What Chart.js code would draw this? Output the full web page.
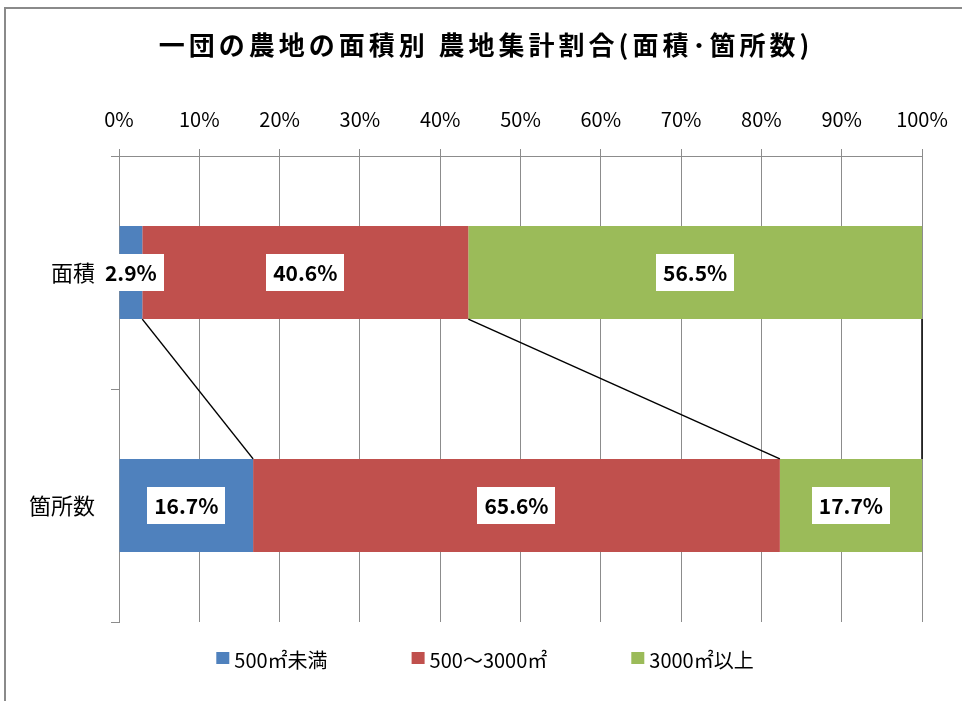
<!DOCTYPE html>
<html>
<head>
<meta charset="utf-8">
<script src="https://cdn.jsdelivr.net/npm/chart.js@4/dist/chart.umd.min.js"></script>
<style>
  html, body { margin: 0; padding: 0; background: #fff; }
  #wrap { width: 962px; height: 701px; position: relative; }
</style>
</head>
<body>
<div id="wrap"><canvas id="c"></canvas></div>
<script>
const titleText = '一団の農地の面積別 農地集計割合(面積･箇所数)';
const categories = ['面積', '箇所数'];
const seriesNames = ['500㎡未満', '500～3000㎡', '3000㎡以上'];
const under500 = [2.9, 16.7];
const from500to3000 = [40.6, 65.6];
const over3000 = [56.5, 17.7];
const seriesColors = ['#4F81BD', '#C0504D', '#9BBB59'];

const FONT = "'Noto Sans CJK JP', 'Noto Sans', sans-serif";

const frame = {
  id: 'frame',
  beforeDraw(chart) {
    const ctx = chart.ctx;
    ctx.save();
    ctx.fillStyle = '#fff';
    ctx.fillRect(0, 0, chart.width, chart.height);
    ctx.fillStyle = '#8a8a8a';
    ctx.fillRect(4, 7, chart.width - 4, 2);
    ctx.fillRect(4, 7, 2, chart.height - 7);
    ctx.restore();
  },
  afterDraw(chart) {
    const ctx = chart.ctx;
    ctx.save();
    // title
    ctx.font = 'bold 26px ' + FONT;
    ctx.letterSpacing = '4px';
    ctx.fillStyle = '#000';
    ctx.textAlign = 'center';
    ctx.textBaseline = 'middle';
    ctx.fillText(titleText, 486, 45);
    ctx.letterSpacing = '0px';
    // legend
    ctx.font = '20px ' + FONT;
    const box = 13, boxGap = 5, itemGap = 84;
    const items = chart.data.datasets.map(d => ({ label: d.label, color: d.backgroundColor, w: ctx.measureText(d.label).width }));
    const total = items.reduce((s, it) => s + box + boxGap + it.w, 0) + itemGap * (items.length - 1);
    let x = chart.width / 2 + 4 - total / 2;
    const y = 659;
    ctx.textAlign = 'left';
    items.forEach(it => {
      ctx.fillStyle = it.color;
      ctx.fillRect(x, y - 7, box, 12);
      ctx.fillStyle = '#000';
      ctx.fillText(it.label, x + box + boxGap, y + 1);
      x += box + boxGap + it.w + itemGap;
    });
    ctx.restore();
  }
};

const seriesLinesAndLabels = {
  id: 'seriesLinesAndLabels',
  afterDatasetsDraw(chart) {
    const ctx = chart.ctx;
    ctx.save();
    // series lines
    ctx.strokeStyle = '#000';
    ctx.lineWidth = 1.5;
    chart.data.datasets.forEach((ds, i) => {
      const meta = chart.getDatasetMeta(i);
      const a = meta.data[0], b = meta.data[1];
      ctx.beginPath();
      ctx.moveTo(a.x, a.y + a.height / 2);
      ctx.lineTo(b.x, b.y - b.height / 2);
      ctx.stroke();
    });
    // data labels
    ctx.font = 'bold 21px ' + FONT;
    ctx.textAlign = 'center';
    ctx.textBaseline = 'middle';
    chart.data.datasets.forEach((ds, i) => {
      const meta = chart.getDatasetMeta(i);
      meta.data.forEach((bar, j) => {
        const txt = ds.data[j].toFixed(1) + '%';
        const cx = (bar.base + bar.x) / 2;
        const cy = bar.y;
        const w = ctx.measureText(txt).width + 14;
        const h = 37;
        ctx.fillStyle = '#fff';
        ctx.fillRect(Math.round(cx - w / 2), Math.round(cy - h / 2), Math.round(w), h);
        ctx.fillStyle = '#000';
        ctx.fillText(txt, cx, cy + 1);
      });
    });
    ctx.restore();
  }
};

const datasetsValues = [under500, from500to3000, over3000];

new Chart(document.getElementById('c'), {
  type: 'bar',
  data: {
    labels: categories,
    datasets: datasetsValues.map((vals, i) => ({
      label: seriesNames[i],
      data: vals,
      backgroundColor: seriesColors[i],
      borderWidth: 0,
      barPercentage: 0.4,
      categoryPercentage: 1.0
    }))
  },
  options: {
    indexAxis: 'y',
    responsive: true,
    maintainAspectRatio: false,
    animation: false,
    layout: { padding: { top: 0, left: 0, right: 40, bottom: 79 } },
    plugins: {
      legend: { display: false },
      title: { display: false },
      tooltip: { enabled: false }
    },
    scales: {
      x: {
        position: 'top',
        stacked: true,
        min: 0,
        max: 100,
        afterFit(scale) { scale.height = 156; scale.paddingLeft = 0; scale.paddingRight = 0; },
        ticks: {
          stepSize: 10,
          callback: v => v + '%',
          color: '#000',
          font: { family: FONT, size: 20 },
          padding: 18,
          maxRotation: 0
        },
        grid: { color: '#8c8c8c', lineWidth: 1, tickLength: 7, drawTicks: true },
        border: { display: true, color: '#8c8c8c', width: 1 }
      },
      y: {
        stacked: true,
        afterFit(scale) { scale.width = 119; },
        ticks: {
          color: '#000',
          font: { family: FONT, size: 22 },
          padding: 16
        },
        grid: { offset: true, drawOnChartArea: false, drawTicks: true, tickLength: 8, color: '#8c8c8c' },
        border: { display: true, color: '#8c8c8c', width: 1 }
      }
    }
  },
  plugins: [frame, seriesLinesAndLabels]
});
</script>
</body>
</html>
